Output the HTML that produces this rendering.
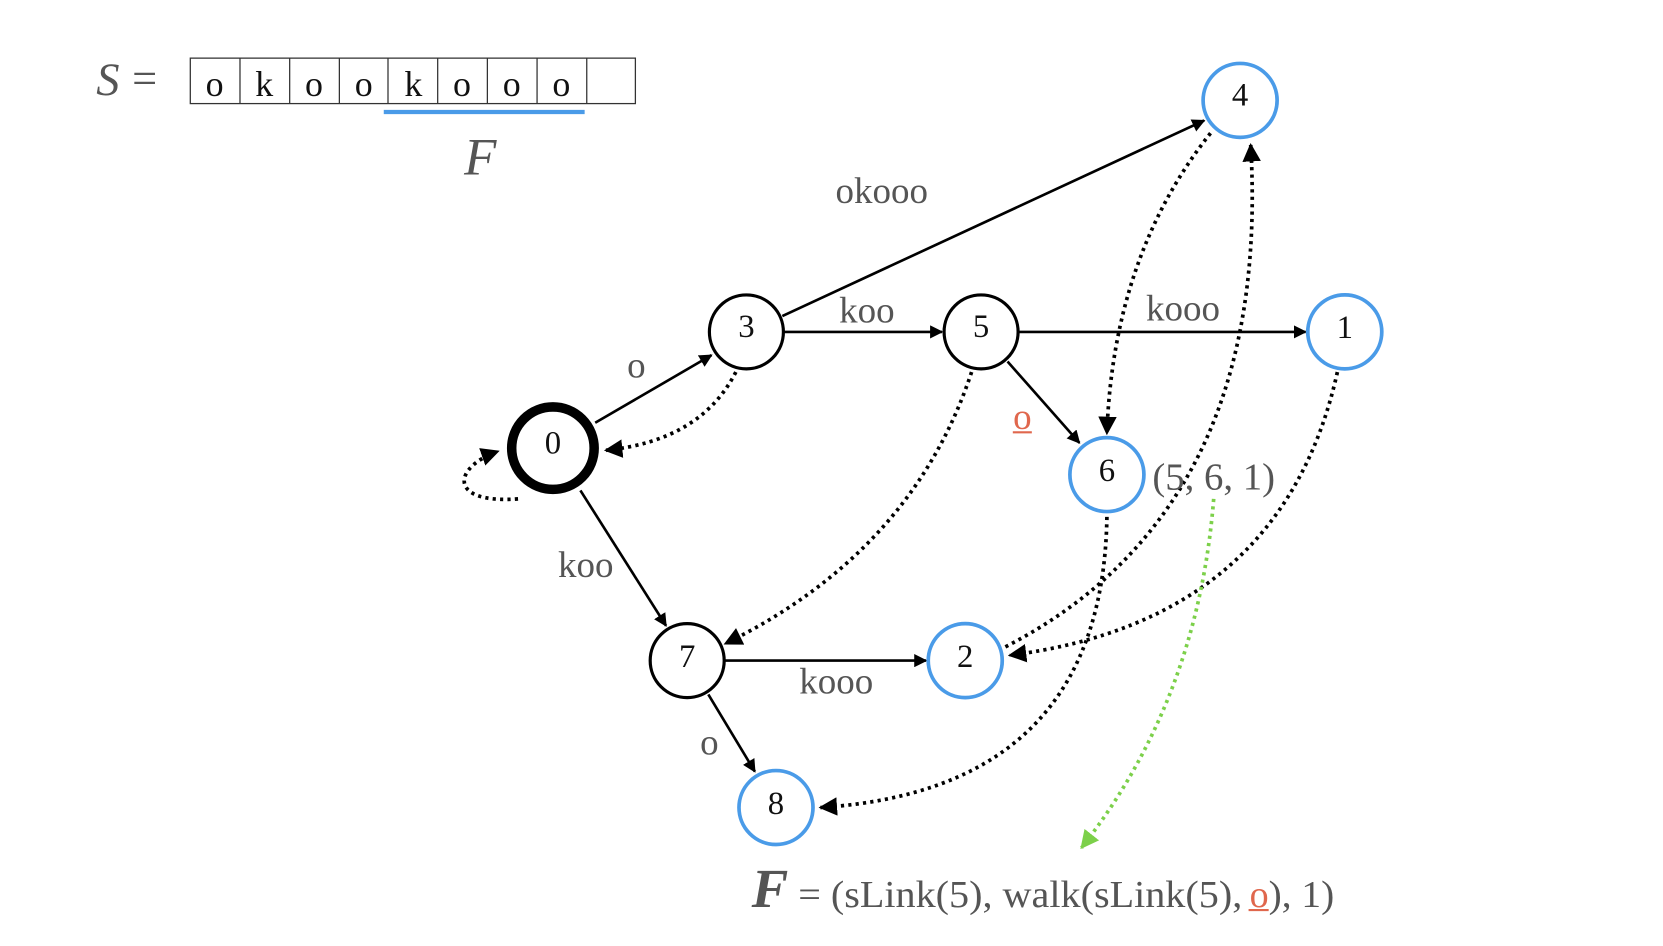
<!DOCTYPE html>
<html><head><meta charset="utf-8"><style>
html,body{margin:0;padding:0;background:#fff;}
svg{display:block;}
text{font-family:"Liberation Serif",serif;}
</style></head><body>
<svg width="1663" height="946" viewBox="0 0 1573 895" preserveAspectRatio="none" xmlns="http://www.w3.org/2000/svg">
<defs>
<marker id="a" viewBox="0 0 10 10" refX="9" refY="5" markerWidth="5" markerHeight="5" orient="auto"><path d="M0,0L10,5L0,10z" fill="#000"/></marker>
<marker id="g" viewBox="0 0 10 10" refX="9" refY="5" markerWidth="5" markerHeight="5" orient="auto"><path d="M0,0L10,5L0,10z" fill="#7cd04a"/></marker>
</defs>
<g transform="translate(3,2)">
<text x="88" y="88" font-size="44" font-style="italic" fill="#555">S</text>
<text x="122" y="86" font-size="42" fill="#555">=</text>
<g stroke="#333" stroke-width="1.2" fill="none">
<rect x="177" y="53" width="421" height="43"/>
<line x1="224" y1="53" x2="224" y2="96"/><line x1="271" y1="53" x2="271" y2="96"/>
<line x1="318" y1="53" x2="318" y2="96"/><line x1="364" y1="53" x2="364" y2="96"/>
<line x1="411" y1="53" x2="411" y2="96"/><line x1="458" y1="53" x2="458" y2="96"/>
<line x1="505" y1="53" x2="505" y2="96"/><line x1="552" y1="53" x2="552" y2="96"/>
</g>
<g font-size="34" fill="#111" text-anchor="middle">
<text x="200" y="89">o</text><text x="247" y="89">k</text><text x="294" y="89">o</text><text x="341" y="89">o</text>
<text x="388" y="89">k</text><text x="434" y="89">o</text><text x="481" y="89">o</text><text x="528" y="89">o</text>
</g>
<path d="M360,104 l190,0" stroke="#4a9be8" stroke-width="4"/>
<text x="436" y="163" font-size="50" font-style="italic" fill="#555">F</text>

<g stroke="#000" stroke-width="2.5" fill="none" marker-end="url(#a)">
<line x1="560" y1="398" x2="670" y2="334"/>
<line x1="738" y1="312" x2="888" y2="312"/>
<line x1="737" y1="297" x2="1136" y2="112"/>
<line x1="960" y1="312" x2="1232" y2="312"/>
<line x1="950" y1="340" x2="1018" y2="417"/>
<line x1="546" y1="462" x2="627" y2="590"/>
<line x1="682" y1="623" x2="873" y2="623"/>
<line x1="667" y1="655" x2="711" y2="728"/>
</g>
<g stroke="#000" stroke-width="3.5" stroke-dasharray="3,4" fill="none" marker-end="url(#a)">
<path d="M693,350 Q660,415 570,424"/>
<path d="M487,470 C420,475 425,440 468,425"/>
<path d="M916,350 Q860,520 683,607"/>
<path d="M1142,124 Q1050,240 1044,408"/>
<path d="M1044,487 Q1040,745 773,762"/>
<path d="M948,610 Q1200,480 1180,135"/>
<path d="M1262,350 Q1210,585 952,618"/>
</g>
<path d="M1145,470 Q1130,660 1020,800" stroke="#7cd04a" stroke-width="3.5" stroke-dasharray="3,4" fill="none" marker-end="url(#g)"/>

<circle cx="520" cy="422" r="39" fill="#fff" stroke="#000" stroke-width="9"/>
<g fill="#fff" stroke="#000" stroke-width="3">
<circle cx="703" cy="312" r="35"/><circle cx="925" cy="312" r="35"/><circle cx="647" cy="623" r="35"/>
</g>
<g fill="#fff" stroke="#4a9be8" stroke-width="3.5">
<circle cx="1170" cy="93" r="35"/><circle cx="1269" cy="312" r="35"/><circle cx="1044" cy="447" r="35"/>
<circle cx="910" cy="623" r="35"/><circle cx="731" cy="762" r="35"/>
</g>
<g font-size="31" fill="#111" text-anchor="middle">
<text x="520" y="427">0</text><text x="703" y="317">3</text><text x="925" y="317">5</text><text x="647" y="629">7</text>
<text x="1170" y="98">4</text><text x="1269" y="318">1</text><text x="1044" y="453">6</text><text x="910" y="629">2</text><text x="731" y="768">8</text>
</g>
<g font-size="35" fill="#555" text-anchor="middle">
<text x="599" y="355">o</text>
<text x="817" y="303">koo</text>
<text x="831" y="190">okooo</text>
<text x="1116" y="301">kooo</text>
<text x="551" y="544">koo</text>
<text x="788" y="654">kooo</text>
<text x="668" y="712">o</text>
</g>
<text x="964" y="404" font-size="35" fill="#e0674d" text-anchor="middle">o</text>
<line x1="955" y1="407" x2="973" y2="407" stroke="#e0674d" stroke-width="2"/>
<text x="1087" y="461" font-size="36" fill="#555" textLength="116" lengthAdjust="spacingAndGlyphs">(5, 6, 1)</text>

<text x="708" y="856" font-size="52" font-style="italic" font-weight="bold" fill="#555">F</text>
<text x="752" y="856" font-size="36" fill="#555" textLength="420" lengthAdjust="spacingAndGlyphs">= (sLink(5), walk(sLink(5),</text>
<text x="1179" y="856" font-size="36" fill="#e0674d">o</text>
<text x="1197" y="856" font-size="36" fill="#555" textLength="62" lengthAdjust="spacingAndGlyphs">), 1)</text>
<line x1="1178" y1="859" x2="1197" y2="859" stroke="#e0674d" stroke-width="2"/>
</g>
</svg>
</body></html>
